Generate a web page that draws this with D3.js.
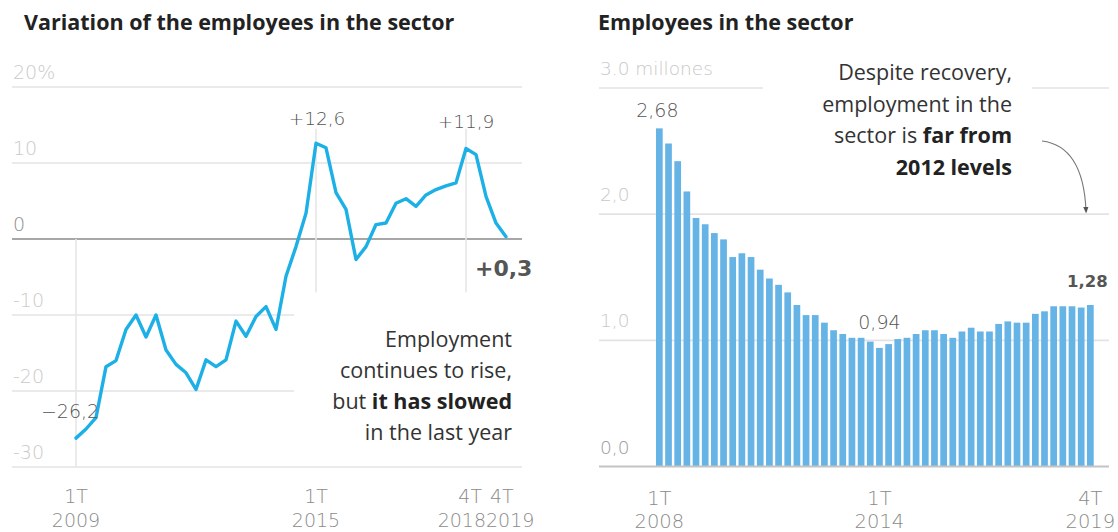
<!DOCTYPE html>
<html>
<head>
<meta charset="utf-8">
<script src="https://cdn.jsdelivr.net/npm/d3@7"></script>
<style>
  html, body { margin: 0; padding: 0; background: #fff; }
  svg { display: block; }
  .title { font-family: "Open Sans", Lato, sans-serif; font-weight: 700; fill: #222; }
  .note { font-family: "Open Sans", Lato, sans-serif; fill: #333; }
  .note .b { font-weight: 700; fill: #222; }
  .tick { font-family: "DejaVu Sans", sans-serif; font-weight: 200; }
  .val { font-family: "DejaVu Sans", sans-serif; font-weight: 200; fill: #555; }
</style>
</head>
<body>
<svg id="chart" width="1118" height="532"></svg>
<script>
// Year-on-year change in sector employees (%), quarterly 1T 2009 - 4T 2019
const changeYears = [2009, 2010, 2011, 2012, 2013, 2014, 2015, 2016, 2017, 2018, 2019];
const changeValues = [
  -26.2, -25.0, -23.5, -16.8,
  -16.0, -11.9, -10.0, -12.9,
  -10.0, -14.6, -16.5, -17.6,
  -19.8, -15.9, -16.8, -15.9,
  -10.8, -12.8, -10.2, -8.9,
  -11.9, -4.9, -1.0, 3.4,
  12.6, 12.0, 6.1, 3.9,
  -2.7, -1.0, 1.9, 2.1,
  4.7, 5.3, 4.3, 5.8,
  6.5, 7.0, 7.4, 11.9,
  11.1, 5.6, 2.1, 0.3
];
const changeTicks = [20, 10, 0, -10, -20, -30];
const changeTickLabels = ["20%", "10", "0", "-10", "-20", "-30"];
const changeAxisMarks = ["1T 2009", "1T 2015", "4T 2018", "4T 2019"];
const changeCallouts = [
  { q: "1T 2009", text: "\u221226,2" },
  { q: "1T 2015", text: "+12,6" },
  { q: "4T 2018", text: "+11,9" },
  { q: "4T 2019", text: "+0,3" }
];

// Employees in the sector (millions), quarterly 1T 2008 - 4T 2019
const staffYears = [2008, 2009, 2010, 2011, 2012, 2013, 2014, 2015, 2016, 2017, 2018, 2019];
const staffValues = [
  2.68, 2.56, 2.42, 2.18,
  1.97, 1.92, 1.85, 1.80,
  1.66, 1.69, 1.66, 1.56,
  1.49, 1.44, 1.38, 1.28,
  1.20, 1.20, 1.14, 1.08,
  1.05, 1.02, 1.02, 0.99,
  0.94, 0.97, 1.01, 1.02,
  1.05, 1.08, 1.08, 1.05,
  1.02, 1.07, 1.10, 1.07,
  1.07, 1.13, 1.15, 1.14,
  1.14, 1.21, 1.23, 1.27,
  1.27, 1.27, 1.26, 1.28
];
const staffTicks = [3, 2, 1, 0];
const staffTickLabels = ["3.0 millones", "2,0", "1,0", "0,0"];
const staffAxisMarks = ["1T 2008", "1T 2014", "4T 2019"];
const staffCallouts = [
  { q: "1T 2008", text: "2,68" },
  { q: "1T 2014", text: "0,94" },
  { q: "4T 2019", text: "1,28" }
];

const quarters = years => years.flatMap(y => [1, 2, 3, 4].map(q => q + "T " + y));
const changeQuarters = quarters(changeYears);
const staffQuarters = quarters(staffYears);
const changeData = changeQuarters.map((q, i) => ({ q, v: changeValues[i] }));
const staffData = staffQuarters.map((q, i) => ({ q, v: staffValues[i] }));

const svg = d3.select("#chart");
const BLUE_LINE = "#1db0e6";
const BLUE_BAR = "#66b3e6";
const GRID = "#e3e3e3";

/* ---------- Left panel: percentage change line ---------- */
const L = svg.append("g");
const xL = d3.scalePoint().domain(changeQuarters).range([76, 506]);
const yL = d3.scaleLinear().domain([-30, 20]).range([467, 87]);

L.append("text").attr("class", "title").attr("x", 24).attr("y", 30)
  .style("font-size", "21.5px").text("Variation of the employees in the sector");

// horizontal grid, the lower ones stop short of the note
const gridEnd = { "20": 522, "10": 522, "0": 522, "-10": 294, "-20": 294, "-30": 522 };
L.selectAll("line.h").data(changeTicks).join("line")
  .attr("x1", 12).attr("x2", d => gridEnd[d])
  .attr("y1", d => yL(d)).attr("y2", d => yL(d))
  .attr("stroke", d => d === 0 ? "#8a8a8a" : GRID)
  .attr("stroke-width", 1.6);

L.selectAll("text.tick").data(changeTicks).join("text")
  .attr("class", "tick").attr("x", 13).attr("y", d => yL(d) - 8)
  .style("font-size", "19px")
  .attr("fill", d => d === 0 ? "#8c8c8c" : "#cacaca")
  .text((d, i) => changeTickLabels[i]);

// vertical reference lines
const vRefs = [
  { q: "1T 2009", y1: 0, y2: -30 },
  { q: "1T 2015", y1: 14.5, y2: -7 },
  { q: "4T 2018", y1: 14.5, y2: -7 }
];
L.selectAll("line.v").data(vRefs).join("line")
  .attr("x1", d => xL(d.q)).attr("x2", d => xL(d.q))
  .attr("y1", d => yL(d.y1)).attr("y2", d => yL(d.y2))
  .attr("stroke", "#e6e6e6").attr("stroke-width", 1.6);

// x axis labels; the last two sit side by side
const xAxisL = L.append("g");
const markAnchor = { "4T 2018": ["end", 20], "4T 2019": ["start", -20] };
changeAxisMarks.forEach(m => {
  const [qt, yr] = m.split(" ");
  const [anchor, shift] = markAnchor[m] || ["middle", 0];
  const t = xAxisL.append("text").attr("class", "tick")
    .attr("text-anchor", anchor)
    .style("font-size", "19px").attr("fill", "#8a8a8a");
  t.append("tspan").attr("x", xL(m) + shift - (anchor === "end" ? 4 : anchor === "start" ? -4 : 0)).attr("y", 503).text(qt);
  t.append("tspan").attr("x", xL(m) + shift).attr("y", 527).text(yr);
});

// the series
L.append("path").datum(changeData)
  .attr("d", d3.line().x(d => xL(d.q)).y(d => yL(d.v)).curve(d3.curveLinear))
  .attr("fill", "none").attr("stroke", BLUE_LINE)
  .attr("stroke-width", 3.4).attr("stroke-linejoin", "round").attr("stroke-linecap", "round");

// value callouts
const byQ = Object.fromEntries(changeData.map(d => [d.q, d.v]));
const calloutPos = {
  "1T 2009": { dx: -6, dy: -20, anchor: "middle", size: 19, weight: 200, fill: "#555" },
  "1T 2015": { dx: 1, dy: -18, anchor: "middle", size: 18.5, weight: 200, fill: "#555" },
  "4T 2018": { dx: 0, dy: -21, anchor: "middle", size: 18.5, weight: 200, fill: "#555" },
  "4T 2019": { dx: -31, dy: 39, anchor: "start", size: 22, weight: 700, fill: "#444" }
};
changeCallouts.forEach(c => {
  const p = calloutPos[c.q];
  L.append("text").attr("class", "val")
    .attr("x", xL(c.q) + p.dx).attr("y", yL(byQ[c.q]) + p.dy)
    .attr("text-anchor", p.anchor)
    .style("font-size", p.size + "px").style("font-weight", p.weight).attr("fill", p.fill)
    .text(c.text);
});

// explanatory note
const noteL = L.append("text").attr("class", "note").attr("text-anchor", "end").style("font-size", "21.5px");
noteL.append("tspan").attr("x", 512).attr("y", 347).text("Employment");
noteL.append("tspan").attr("x", 512).attr("y", 378).text("continues to rise,");
const l3 = noteL.append("tspan").attr("x", 512).attr("y", 409);
l3.append("tspan").text("but ");
l3.append("tspan").attr("class", "b").text("it has slowed");
noteL.append("tspan").attr("x", 512).attr("y", 440).text("in the last year");

/* ---------- Right panel: employees bars ---------- */
const R = svg.append("g");
const xR = d3.scaleBand().domain(staffQuarters).range([656, 1093.7]).paddingInner(0.27).paddingOuter(0);
const yR = d3.scaleLinear().domain([0, 3]).range([466.5, 88]);

R.append("text").attr("class", "title").attr("x", 598).attr("y", 30)
  .style("font-size", "21.5px").text("Employees in the sector");

// grid (the top one leaves room for the note)
const gridSegs = [
  { v: 3, x1: 599, x2: 763 }, { v: 3, x1: 1032, x2: 1109 },
  { v: 2, x1: 599, x2: 1109 }, { v: 1, x1: 599, x2: 1109 }
];
R.selectAll("line.h").data(gridSegs).join("line")
  .attr("x1", d => d.x1).attr("x2", d => d.x2)
  .attr("y1", d => yR(d.v)).attr("y2", d => yR(d.v))
  .attr("stroke", GRID).attr("stroke-width", 1.6);

R.selectAll("text.tick").data(staffTicks).join("text")
  .attr("class", "tick").attr("x", 600).attr("y", d => yR(d) - 13)
  .style("font-size", "18.5px")
  .attr("fill", d => d === 0 ? "#9a9a9a" : "#c8c8c8")
  .text((d, i) => staffTickLabels[i]);

R.selectAll("rect.bar").data(staffData).join("rect")
  .attr("x", d => xR(d.q)).attr("width", xR.bandwidth())
  .attr("y", d => yR(d.v)).attr("height", d => yR(0) - yR(d.v))
  .attr("fill", BLUE_BAR);

// baseline
R.append("line").attr("x1", 599).attr("x2", 1109)
  .attr("y1", yR(0)).attr("y2", yR(0))
  .attr("stroke", "#c4c4c4").attr("stroke-width", 2.2);

// x axis labels
staffAxisMarks.forEach(m => {
  const [qt, yr] = m.split(" ");
  const cx = xR(m) + xR.bandwidth() / 2;
  const t = R.append("text").attr("class", "tick").attr("text-anchor", "middle")
    .style("font-size", "19.5px").attr("fill", "#8a8a8a");
  t.append("tspan").attr("x", cx).attr("y", 505).text(qt);
  t.append("tspan").attr("x", cx).attr("y", 528).text(yr);
});

// value callouts
const byQR = Object.fromEntries(staffData.map(d => [d.q, d.v]));
const staffCalloutPos = {
  "1T 2008": { dx: -2, dy: -11, size: 19, weight: 200, fill: "#555" },
  "1T 2014": { dx: 0, dy: -19, size: 19, weight: 200, fill: "#555" },
  "4T 2019": { dx: -3, dy: -18, size: 16.5, weight: 700, fill: "#333" }
};
staffCallouts.forEach(c => {
  const p = staffCalloutPos[c.q];
  R.append("text").attr("class", "val").attr("text-anchor", "middle")
    .attr("x", xR(c.q) + xR.bandwidth() / 2 + p.dx).attr("y", yR(byQR[c.q]) + p.dy)
    .style("font-size", p.size + "px").style("font-weight", p.weight).attr("fill", p.fill)
    .text(c.text);
});

// note with arrow to the 2,0 gridline
const noteR = R.append("text").attr("class", "note").attr("text-anchor", "end").style("font-size", "21.5px");
noteR.append("tspan").attr("x", 1012).attr("y", 80).text("Despite recovery,");
noteR.append("tspan").attr("x", 1012).attr("y", 111.7).text("employment in the");
const r3 = noteR.append("tspan").attr("x", 1012).attr("y", 143.3);
r3.append("tspan").text("sector is ");
r3.append("tspan").attr("class", "b").text("far from");
noteR.append("tspan").attr("class", "b").attr("x", 1012).attr("y", 175).text("2012 levels");

svg.append("defs").append("marker").attr("id", "tip")
  .attr("viewBox", "0 0 10 10").attr("refX", 5).attr("refY", 5)
  .attr("markerWidth", 6).attr("markerHeight", 6).attr("orient", "auto-start-reverse")
  .append("path").attr("d", "M0,1 L10,5 L0,9 Z").attr("fill", "#555");
R.append("path")
  .attr("d", `M1042,141 Q1083,146 1086,${yR(2) - 4}`)
  .attr("fill", "none").attr("stroke", "#777").attr("stroke-width", 1.1)
  .attr("marker-end", "url(#tip)");
</script>
</body>
</html>
